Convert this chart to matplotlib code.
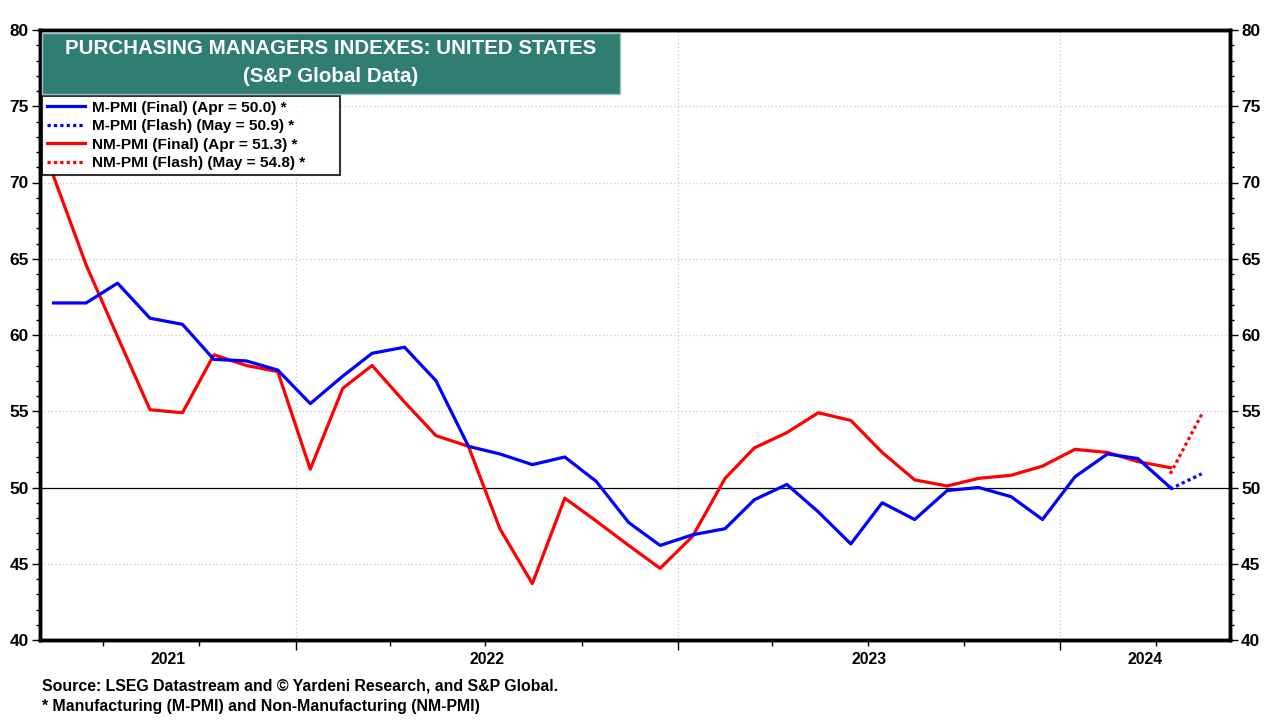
import numpy as np
import pandas as pd
import matplotlib
matplotlib.use("Agg")
import matplotlib.pyplot as plt
import matplotlib.dates as mdates
import matplotlib.transforms as mtransforms
from matplotlib.patches import Rectangle

plt.rcParams['font.family'] = ['Liberation Sans', 'DejaVu Sans']
plt.rcParams['font.weight'] = 'bold'

# monthly data, May 2021 .. Apr 2024 (final readings)
dates = pd.date_range("2021-05-01", periods=36, freq="MS") + pd.Timedelta(days=14)
m_pmi = [62.1, 62.1, 63.4, 61.1, 60.7, 58.4, 58.3, 57.7,
         55.5, 57.3, 58.8, 59.2, 57.0, 52.7, 52.2, 51.5, 52.0, 50.4, 47.7, 46.2,
         46.9, 47.3, 49.2, 50.2, 48.4, 46.3, 49.0, 47.9, 49.8, 50.0, 49.4, 47.9,
         50.7, 52.2, 51.9, 50.0]
nm_pmi = [70.4, 64.6, 59.9, 55.1, 54.9, 58.7, 58.0, 57.6,
          51.2, 56.5, 58.0, 55.6, 53.4, 52.7, 47.3, 43.7, 49.3, 47.8, 46.2, 44.7,
          46.8, 50.6, 52.6, 53.6, 54.9, 54.4, 52.3, 50.5, 50.1, 50.6, 50.8, 51.4,
          52.5, 52.3, 51.7, 51.3]

# flash readings (Apr flash -> May flash)
flash_dates = pd.to_datetime(["2024-04-15", "2024-05-15"])
m_flash = [49.9, 50.9]
nm_flash = [50.9, 54.8]

labels = ["M-PMI (Final) (Apr = 50.0) *", "M-PMI (Flash) (May = 50.9) *",
          "NM-PMI (Final) (Apr = 51.3) *", "NM-PMI (Flash) (May = 54.8) *"]

blue = "#0000FF"
red = "#FF0000"
teal = "#307D72"

fig = plt.figure(figsize=(12.8, 7.2), dpi=100)
ax = fig.add_axes([40/1280, 1 - 640/720, 1190/1280, 610/720])

lw = 2.3
l1, = ax.plot(dates, m_pmi, color=blue, lw=lw, zorder=5)
l2, = ax.plot(flash_dates, m_flash, color=blue, lw=lw, ls=(0, (1, 1)), zorder=5)
l3, = ax.plot(dates, nm_pmi, color=red, lw=lw, zorder=4)
l4, = ax.plot(flash_dates, nm_flash, color=red, lw=lw, ls=(0, (1, 1)), zorder=4)

ax.axhline(50, color="black", lw=0.9, zorder=3)

xmin, xmax = pd.Timestamp("2021-05-02"), pd.Timestamp("2024-06-11")
ax.set_xlim(xmin, xmax)
ax.set_ylim(40, 80)

ax.set_yticks(np.arange(40, 81, 5))
ax.set_yticks(np.arange(40, 81, 1), minor=True)
for v in [45, 55, 60, 65, 70, 75]:
    ax.axhline(v, color="#C8C8C8", lw=0.9, ls=(0, (1, 2)), zorder=1)

ax.xaxis.set_major_locator(mdates.YearLocator())
ax.xaxis.set_minor_locator(mdates.MonthLocator(bymonth=[1, 4, 7, 10]))
ax.xaxis.set_major_formatter(plt.NullFormatter())
ax.grid(axis="x", which="major", color="#C8C8C8", lw=0.9, ls=(0, (1, 2)))

ax.tick_params(axis="x", which="major", length=7, width=1, direction="out")
ax.tick_params(axis="x", which="minor", length=4, width=1, direction="out")
ax.tick_params(axis="y", which="major", length=6, width=1, labelsize=12.4, pad=2)
ax.tick_params(axis="y", which="minor", length=3, width=1)

ax2 = ax.twinx()
ax2.set_ylim(40, 80)
ax2.set_yticks(np.arange(40, 81, 5))
ax2.set_yticks(np.arange(40, 81, 1), minor=True)
ax2.tick_params(axis="y", which="major", length=6, width=1, labelsize=12.4, pad=2)
ax2.tick_params(axis="y", which="minor", length=3, width=1)

for a in (ax, ax2):
    for s in a.spines.values():
        s.set_linewidth(2.5)

# year labels centred on the visible part of each year
years = [2021, 2022, 2023, 2024]
trans = mtransforms.blended_transform_factory(ax.transData, ax.transAxes)
for y in years:
    a = max(pd.Timestamp(f"{y}-01-01"), xmin)
    b = min(pd.Timestamp(f"{y + 1}-01-01"), xmax)
    mid = a + (b - a) / 2
    ax.text(mdates.date2num(mid), -0.02, str(y), transform=trans,
            ha="center", va="top", fontsize=11.3, fontweight="bold")

# title box
fig.patches.append(Rectangle((42/1280, 1 - 94/720), 578/1280, 61/720,
                             transform=fig.transFigure, facecolor=teal,
                             edgecolor="#9CC3BC", lw=1, zorder=10))
fig.text(331/1280, 1 - 49/720, "PURCHASING MANAGERS INDEXES: UNITED STATES",
         ha="center", va="center", color="white", fontsize=14.8, fontweight="bold", zorder=11)
fig.text(331/1280, 1 - 76/720, "(S&P Global Data)",
         ha="center", va="center", color="white", fontsize=14.8, fontweight="bold", zorder=11)

leg = ax.legend([l1, l2, l3, l4], labels, loc="upper left", mode="expand",
                bbox_to_anchor=(2/1190, 1 - 146/610, 298/1190, 80/610), frameon=True, fancybox=False,
                edgecolor="black", fontsize=11.1, handlelength=2.5, handletextpad=0.45,
                labelspacing=0.3, borderpad=0.3, borderaxespad=0)
leg.get_frame().set_linewidth(1.5)
leg.set_zorder(20)
for t in leg.get_texts():
    t.set_fontweight("bold")

fig.text(42/1280, 1 - 686/720, "Source: LSEG Datastream and \u00a9 Yardeni Research, and S&P Global.",
         ha="left", va="center", fontsize=11.4, fontweight="bold")
fig.text(42/1280, 1 - 706/720, "* Manufacturing (M-PMI) and Non-Manufacturing (NM-PMI)",
         ha="left", va="center", fontsize=11.4, fontweight="bold")

fig.savefig("out.png", dpi=100)
